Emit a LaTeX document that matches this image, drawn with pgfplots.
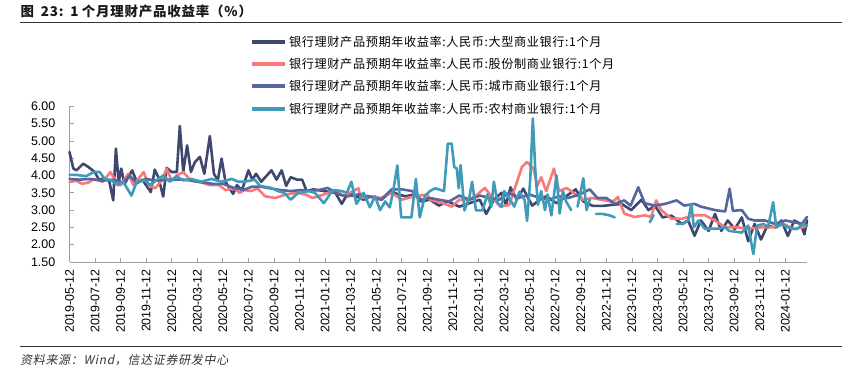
\documentclass[border=0pt]{standalone}
\usepackage{fontspec}
\usepackage{pgfplots}
\pgfplotsset{compat=1.18}
\setmainfont{Liberation Sans}
\newfontfamily\cjk{Noto Sans CJK SC}
\newfontfamily\cjkleg[LetterSpace=5]{Noto Sans CJK SC}
\newfontfamily\cjktitle[LetterSpace=6]{Noto Sans CJK SC}
\newfontfamily\cjkit[FakeSlant=0.2,LetterSpace=6]{Noto Sans CJK SC}
\definecolor{cLarge}{RGB}{62,72,110}
\definecolor{cJoint}{RGB}{250,120,120}
\definecolor{cCity}{RGB}{86,102,162}
\definecolor{cRural}{RGB}{64,155,185}
\definecolor{axgray}{RGB}{160,160,160}
\begin{document}
\begin{tikzpicture}[x=1bp,y=1bp]
\useasboundingbox (0bp,0bp) rectangle (851bp,368bp);
\begin{axis}[
  at={(69.5bp,106bp)}, anchor=south west,
  scale only axis, width=737.5bp, height=155.7bp,
  xmin=0, xmax=57.7, ymin=1.5, ymax=6,
  axis x line*=bottom, axis y line*=left,
  axis line style={axgray, line width=0.9bp},
  tick style={axgray, line width=0.8bp},
  tick align=inside, major tick length=4bp,
  xtick={0,2,...,56},
  xticklabels={2019-05-12,2019-07-12,2019-09-12,2019-11-12,2020-01-12,2020-03-12,2020-05-12,2020-07-12,2020-09-12,2020-11-12,2021-01-12,2021-03-12,2021-05-12,2021-07-12,2021-09-12,2021-11-12,2022-01-12,2022-03-12,2022-05-12,2022-07-12,2022-09-12,2022-11-12,2023-01-12,2023-03-12,2023-05-12,2023-07-12,2023-09-12,2023-11-12,2024-01-12},
  ytick={1.5,2,...,6},
  /pgf/number format/assume math mode=true,
  yticklabel style={/pgf/number format/.cd, fixed, fixed zerofill, precision=2},
  ticklabel style={font=\fontsize{12.5}{13}\selectfont, inner sep=0pt},
  x tick label style={rotate=90, anchor=east},
  xticklabel shift=7bp,
  yticklabel shift=14bp,
  unbounded coords=jump,
  every axis plot/.append style={line width=2.6bp, line join=round, line cap=round, no markers},
  clip=false,
]
% large commercial banks
\addplot[cLarge] coordinates {
(0,4.68)(0.3,4.20)(0.55,4.15)(1.07,4.34)(1.46,4.25)(1.98,4.10)(2.3,3.88)(2.8,3.92)(3.1,3.85)(3.42,3.28)(3.63,4.78)(3.85,3.80)(4.05,4.20)(4.3,3.75)(4.9,4.15)(5.3,3.78)(5.7,3.88)(6.36,3.52)(6.67,4.17)(6.95,3.95)(7.33,3.39)(7.6,4.22)(8.0,4.10)(8.4,4.10)(8.63,5.43)(8.9,4.10)(9.2,4.87)(9.5,4.10)(9.8,4.38)(10.2,4.54)(10.55,4.05)(10.98,5.14)(11.3,4.05)(11.6,3.86)(11.9,4.49)(12.2,3.82)(12.8,3.47)(13.1,3.72)(13.5,3.58)(14.0,4.15)(14.3,3.88)(14.6,4.05)(15.0,3.82)(15.8,4.15)(16.2,3.88)(16.6,4.15)(16.95,3.70)(17.3,3.95)(17.8,3.88)(18.2,3.88)(18.55,3.55)(19.1,3.60)(19.9,3.55)(20.8,3.50)(21.3,3.18)(21.8,3.50)(22.4,3.40)(23.0,3.30)(23.6,3.40)(24.4,3.30)(25.2,3.55)(25.7,3.45)(26.3,3.40)(27.0,3.45)(27.5,3.25)(28.2,3.30)(28.9,3.13)(29.6,3.25)(30.5,3.10)(31.3,3.20)(32.1,3.30)(32.6,2.89)(33.2,3.30)(33.8,3.50)(34.15,3.15)(34.5,3.66)(35.0,3.30)(35.5,3.62)(36.2,3.13)(36.8,3.30)(37.3,3.40)(38.1,3.20)(38.85,3.40)(39.6,3.60)(40.2,3.25)(40.95,3.12)(41.7,3.12)(42.4,3.15)(43.2,3.18)(43.95,3.00)(44.75,3.30)(45.3,3.00)(45.8,3.13)(46.4,2.79)(47.1,2.84)(47.9,2.60)(48.4,2.70)(48.9,2.26)(49.4,2.70)(50.0,2.40)(50.5,2.89)(51.0,2.40)(51.5,2.70)(52.05,2.45)(52.6,2.79)(53.1,2.10)(53.6,2.60)(54.1,2.15)(54.6,2.55)(55.2,2.50)(55.7,2.70)(56.2,2.25)(56.7,2.70)(57.2,2.60)(57.5,2.30)(57.7,2.70)
};
% joint-stock banks
\addplot[cJoint] coordinates {
(0,3.81)(0.5,3.85)(1.0,3.76)(1.5,3.80)(1.9,3.90)(2.6,3.82)(3.2,4.10)(3.6,3.85)(4.0,3.72)(4.6,4.05)(5.0,3.72)(5.8,4.10)(6.2,3.72)(6.7,3.63)(7.2,3.85)(7.6,4.20)(8.0,3.85)(8.4,4.00)(8.9,4.10)(9.5,3.85)(10.3,3.80)(11.0,3.72)(11.7,3.72)(12.2,3.58)(12.9,3.63)(13.3,3.50)(13.7,3.58)(14.2,3.55)(14.7,3.63)(15.3,3.40)(16.1,3.35)(16.9,3.45)(17.8,3.50)(18.5,3.45)(19.0,3.35)(19.9,3.45)(20.9,3.58)(21.4,3.40)(22.6,3.63)(22.8,3.35)(23.6,3.40)(24.4,3.35)(25.2,3.50)(26.0,3.30)(27.0,3.40)(28.0,3.45)(28.2,3.30)(29.2,3.20)(29.9,3.10)(30.5,3.30)(31.3,3.30)(31.9,3.45)(32.5,3.64)(33.0,3.40)(33.7,3.10)(34.4,3.15)(34.9,3.70)(35.4,4.25)(35.8,4.39)(36.3,4.20)(36.6,3.70)(36.9,3.95)(37.3,3.55)(37.9,4.20)(38.3,3.55)(38.9,3.64)(39.6,3.45)(40.2,3.30)(40.9,3.35)(41.6,3.30)(42.3,3.25)(42.65,3.28)(42.9,3.38)(43.4,2.90)(44.2,2.80)(45.0,2.85)(45.5,2.80)(45.9,3.28)(46.3,3.00)(47.1,2.75)(47.9,2.75)(48.9,2.85)(49.7,2.85)(50.5,2.70)(51.3,2.50)(52.3,2.50)(53.1,2.46)(54.1,2.50)(55.2,2.50)(55.9,2.60)(56.6,2.45)(57.3,2.50)(57.7,2.55)
};
% city commercial banks
\addplot[cCity] coordinates {
(0,3.90)(0.8,3.88)(1.6,3.90)(2.6,3.85)(3.4,3.88)(4.2,3.80)(4.7,4.00)(5.2,3.80)(6.0,3.90)(6.8,3.85)(7.8,3.88)(8.9,3.88)(9.6,3.85)(10.4,3.80)(11.2,3.76)(12.0,3.76)(12.8,3.65)(13.6,3.58)(14.3,3.68)(14.9,3.68)(15.7,3.63)(16.5,3.58)(17.3,3.55)(18.1,3.58)(18.8,3.55)(19.5,3.58)(20.2,3.64)(21.1,3.45)(21.8,3.40)(22.6,3.45)(23.4,3.40)(24.4,3.30)(25.2,3.60)(26.0,3.60)(26.8,3.55)(27.5,3.30)(28.2,3.35)(28.9,3.30)(29.7,3.25)(30.5,3.42)(31.3,3.30)(32.1,3.42)(32.9,3.35)(33.6,3.30)(34.4,3.50)(35.1,3.35)(36.0,3.45)(36.8,3.35)(37.5,3.30)(38.3,3.40)(39.0,3.35)(39.9,3.45)(40.7,3.60)(41.3,3.35)(42.0,3.35)(42.65,3.18)(43.4,3.28)(43.9,3.13)(44.5,3.66)(45.0,3.20)(45.8,3.13)(46.6,3.18)(47.5,3.28)(48.1,3.13)(48.9,3.18)(49.4,3.10)(50.5,3.00)(51.3,2.96)(51.65,3.62)(51.9,2.98)(52.6,3.00)(53.1,2.75)(53.6,2.70)(54.4,2.70)(55.2,2.60)(56.0,2.70)(56.7,2.65)(57.3,2.60)(57.7,2.80)
};
% rural commercial banks
\addplot[cRural] coordinates {
(0,4.02)(0.5,4.02)(1.3,3.98)(1.9,4.10)(2.37,4.10)(2.74,3.90)(3.27,3.86)(3.8,3.72)(4.2,3.82)(4.85,3.42)(5.24,3.80)(5.9,3.86)(6.3,3.72)(6.94,3.90)(7.33,4.00)(7.85,3.82)(8.37,3.98)(8.9,3.86)(9.54,3.90)(10.3,3.82)(11.1,3.90)(11.9,3.82)(12.7,3.90)(13.2,3.82)(13.7,3.82)(14.5,3.88)(14.9,3.70)(15.8,3.64)(16.3,3.55)(16.8,3.50)(17.3,3.30)(17.9,3.50)(18.7,3.55)(19.2,3.50)(19.9,3.20)(20.6,3.58)(21.3,3.55)(21.7,3.50)(22.05,3.82)(22.45,3.18)(23.0,3.50)(23.5,3.08)(23.9,3.40)(24.3,3.00)(24.7,3.25)(25.05,3.08)(25.3,3.50)(25.65,4.29)(25.95,2.79)(26.4,2.79)(26.75,2.79)(27.1,3.90)(27.4,2.79)(27.8,3.40)(28.2,3.55)(28.6,3.63)(29.3,3.55)(29.6,4.92)(29.9,4.92)(30.1,4.25)(30.3,4.20)(30.45,3.63)(30.6,4.30)(30.9,2.99)(31.3,3.40)(31.5,3.82)(31.8,2.99)(32.3,2.99)(32.7,3.45)(33.0,3.10)(33.2,3.82)(33.5,3.20)(33.8,3.10)(34.0,3.55)(34.4,3.35)(34.8,3.10)(35.2,3.53)(35.6,3.30)(35.8,2.69)(36.05,3.90)(36.25,5.65)(36.45,4.10)(36.65,3.15)(36.9,3.55)(37.2,3.00)(37.4,3.45)(37.7,2.85)(38.1,4.00)(38.35,2.90)(38.6,3.55)(38.85,3.25)(39.25,3.00)(39.5,nan)(39.75,3.10)(40.2,3.92)(40.45,3.00)(40.7,3.30)(40.95,nan)(41.2,2.89)(41.7,2.89)(42.25,2.85)(42.65,2.79)(43.5,nan)(45.4,2.65)(45.7,2.85)(46.5,nan)(47.5,2.60)(48.0,2.60)(48.4,2.70)(48.65,3.18)(48.85,2.50)(49.2,2.70)(49.7,2.46)(50.2,2.46)(50.7,2.46)(51.3,2.50)(51.6,2.40)(52.6,2.35)(53.1,2.55)(53.5,1.73)(53.8,2.55)(54.3,2.60)(54.65,2.50)(55.05,3.23)(55.3,2.50)(55.7,2.60)(56.2,2.50)(56.9,2.45)(57.4,2.60)(57.7,2.55)
};
\end{axis}
% title and rules
\node[anchor=west, inner sep=0pt, text=black!90] at (20.5bp,356.5bp) {\cjktitle\bfseries\fontsize{13.5}{14}\selectfont 图\hspace{0.5em}23:\hspace{0.5em}1\hspace{0.25em}个月理财产品收益率（\%）};
\draw[line width=0.9bp, black!80] (20bp,346bp) -- (842bp,346bp);
\draw[line width=0.9bp, black!80] (20bp,21.5bp) -- (842bp,21.5bp);
\node[anchor=west, inner sep=0pt, text=black!80] at (20bp,8bp) {\cjkit\fontsize{12}{12}\selectfont 资料来源：Wind，信达证券研发中心};
% legend
\foreach \c/\yy/\t in {cLarge/326/大型商业银行, cJoint/304/股份制商业银行, cCity/282/城市商业银行, cRural/259/农村商业银行}{
  \draw[\c, line width=3.5bp] (252bp,\yy bp) -- (285bp,\yy bp);
  \node[anchor=west, inner sep=0pt] at (289bp,\yy bp) {\cjkleg\fontsize{12.2}{12}\selectfont 银行理财产品预期年收益率:人民币:\t:1个月};
}
\end{tikzpicture}
\end{document}
